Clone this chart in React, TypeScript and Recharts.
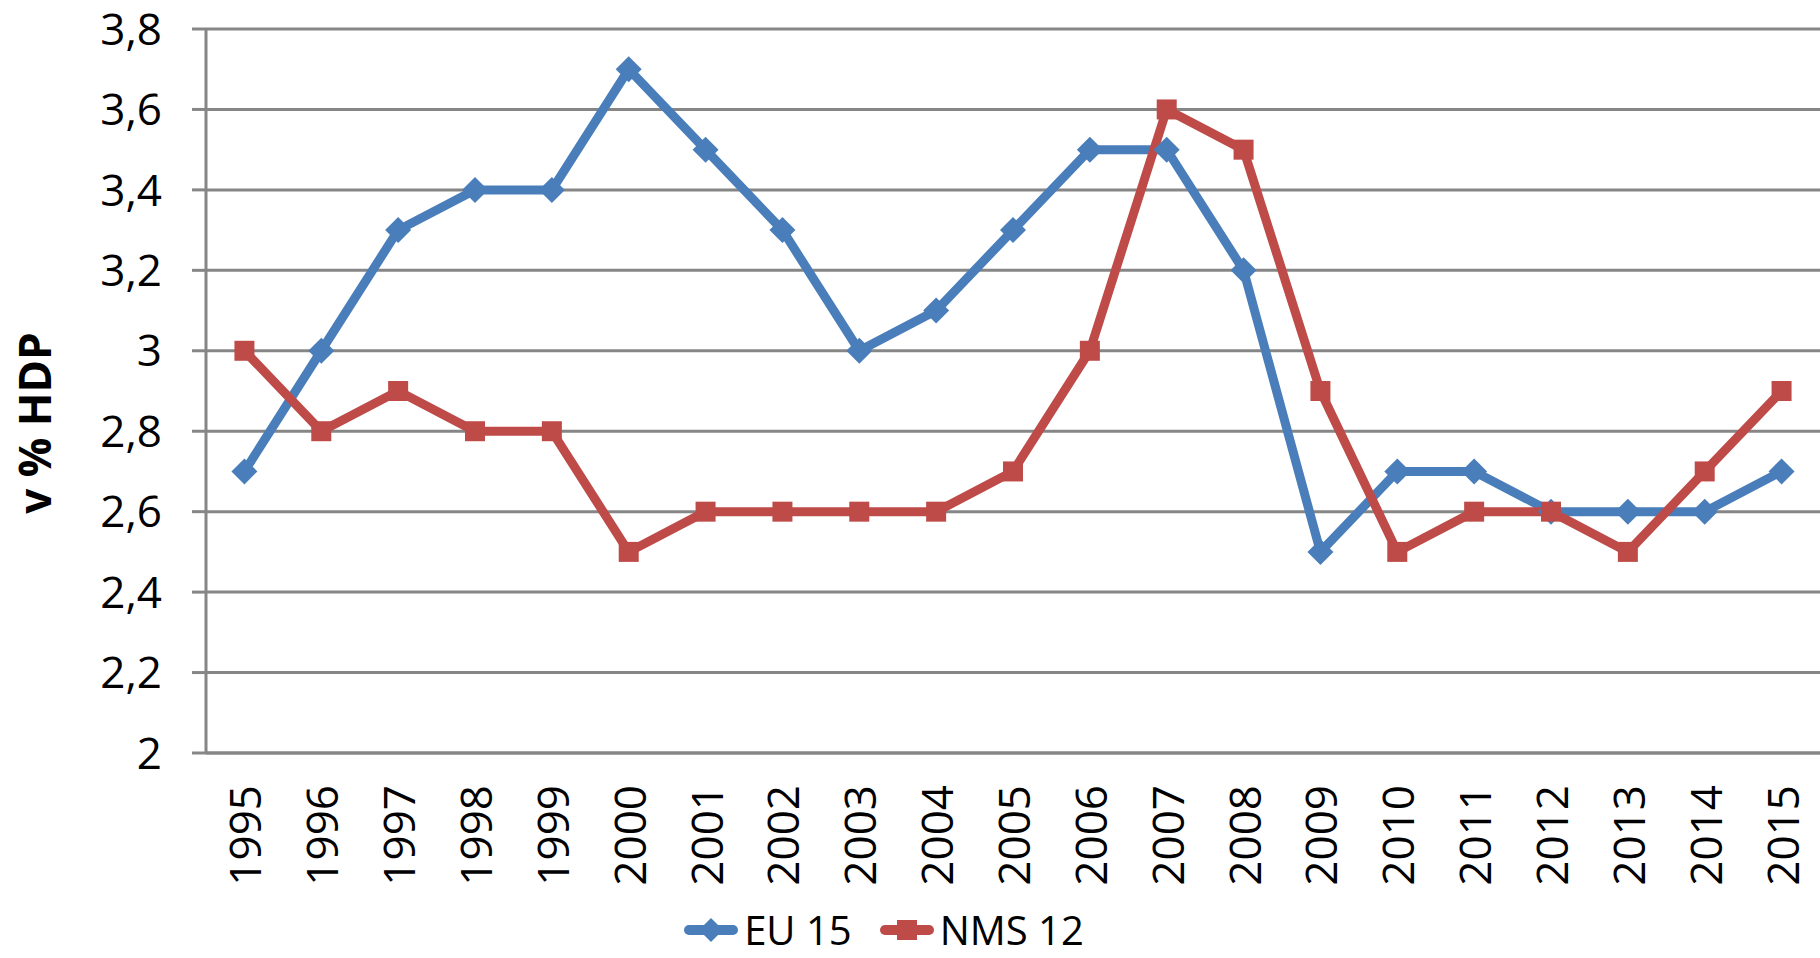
import React from 'react'
import { LineChart, Line, XAxis, YAxis, CartesianGrid, Legend } from 'recharts'

const YEARS = ['1995', '1996', '1997', '1998', '1999', '2000', '2001', '2002', '2003', '2004', '2005', '2006', '2007', '2008', '2009', '2010', '2011', '2012', '2013', '2014', '2015']
const EU15 = [2.7, 3.0, 3.3, 3.4, 3.4, 3.7, 3.5, 3.3, 3.0, 3.1, 3.3, 3.5, 3.5, 3.2, 2.5, 2.7, 2.7, 2.6, 2.6, 2.6, 2.7]
const NMS12 = [3.0, 2.8, 2.9, 2.8, 2.8, 2.5, 2.6, 2.6, 2.6, 2.6, 2.7, 3.0, 3.6, 3.5, 2.9, 2.5, 2.6, 2.6, 2.5, 2.7, 2.9]
const Y_TICKS = [2, 2.2, 2.4, 2.6, 2.8, 3, 3.2, 3.4, 3.6, 3.8]

const BLUE = '#4A7EBB'
const RED = '#BE4B48'
const GRID = '#868686'
const FONT = '"Open Sans", sans-serif'

// categories sit between tick marks, like the Excel original
const CENTERS = YEARS.map((_, i) => i)
const BOUNDS = YEARS.map((_, i) => i - 0.5).concat([YEARS.length - 0.5])
const X_DOMAIN = [-0.5, YEARS.length - 0.5]

const data = YEARS.map((year, i) => ({ idx: i, year, eu: EU15[i], nms: NMS12[i] }))

const Diamond = (props: any) => {
  const { cx, cy, fill } = props
  if (cx == null || cy == null) return null
  const r = 13
  return <path d={`M${cx},${cy - r}L${cx + r},${cy}L${cx},${cy + r}L${cx - r},${cy}Z`} fill={fill} />
}

const Square = (props: any) => {
  const { cx, cy, fill } = props
  if (cx == null || cy == null) return null
  const r = 10
  return <rect x={cx - r} y={cy - r} width={2 * r} height={2 * r} fill={fill} />
}

const YearTick = (props: any) => {
  const { x, y, payload } = props
  return (
    <text x={x} y={y} transform={`rotate(-90, ${x}, ${y})`} textAnchor="end" dominantBaseline="central"
      fill="#000" fontSize={44} fontFamily={FONT}>
      {YEARS[payload.value]}
    </text>
  )
}

const LegendIcon = ({ color, square }: { color: string; square?: boolean }) => (
  <svg width={54} height={32} style={{ marginRight: 6 }}>
    <line x1={5} y1={16} x2={49} y2={16} stroke={color} strokeWidth={10} strokeLinecap="round" />
    {square
      ? <rect x={17} y={6} width={20} height={20} fill={color} />
      : <path d="M27,4L39,16L27,28L15,16Z" fill={color} />}
  </svg>
)

const LegendContent = () => (
  <div style={{ display: 'flex', justifyContent: 'center', alignItems: 'center', height: 56, lineHeight: '56px',
    fontFamily: FONT, fontSize: 40, color: '#000', marginLeft: -52, marginTop: 4 }}>
    <LegendIcon color={BLUE} />
    <span style={{ marginRight: 28 }}>EU 15</span>
    <LegendIcon color={RED} square />
    <span>NMS 12</span>
  </div>
)

const YLabel = (props: any) => {
  const { viewBox } = props
  const cx = 34
  const cy = viewBox.y + viewBox.height / 2 + 32
  return (
    <text x={cx} y={cy} transform={`rotate(-90, ${cx}, ${cy})`} textAnchor="middle" dominantBaseline="central"
      fontSize={44} fontWeight="bold" fontFamily={FONT} fill="#000">
      v % HDP
    </text>
  )
}

export default function App() {
  return (
    <div style={{ position: 'absolute', left: 0, top: 0, background: '#fff' }}>
      <LineChart width={1820} height={958} data={data} margin={{ top: 29, right: 0, bottom: 0, left: 0 }}>
        <CartesianGrid vertical={false} stroke={GRID} strokeWidth={3} />
        <XAxis dataKey="idx" xAxisId="cat" type="number" domain={X_DOMAIN} ticks={CENTERS}
          axisLine={{ stroke: GRID, strokeWidth: 3 }} tickLine={false}
          tickSize={0} tickMargin={32} tick={<YearTick />} height={145} interval={0} />
        <XAxis xAxisId="bounds" type="number" domain={X_DOMAIN} ticks={BOUNDS}
          axisLine={false} tick={false} tickLine={{ stroke: GRID, strokeWidth: 3 }} tickSize={15} height={0} />
        <YAxis domain={[2, 3.8]} ticks={Y_TICKS} width={206} axisLine={{ stroke: GRID, strokeWidth: 3 }}
          tickLine={{ stroke: GRID, strokeWidth: 3 }} tickSize={14} tickMargin={30}
          tickFormatter={(v: number) => String(v).replace('.', ',')}
          tick={{ fill: '#000', fontSize: 44, fontFamily: FONT }}
          label={<YLabel />} />
        <Legend verticalAlign="bottom" content={<LegendContent />} wrapperStyle={{ height: 60 }} />
        <Line xAxisId="cat" dataKey="eu" name="EU 15" stroke={BLUE} strokeWidth={9} dot={<Diamond fill={BLUE} />}
          isAnimationActive={false} strokeLinejoin="miter" />
        <Line xAxisId="cat" dataKey="nms" name="NMS 12" stroke={RED} strokeWidth={9} dot={<Square fill={RED} />}
          isAnimationActive={false} strokeLinejoin="miter" />
      </LineChart>
    </div>
  )
}
